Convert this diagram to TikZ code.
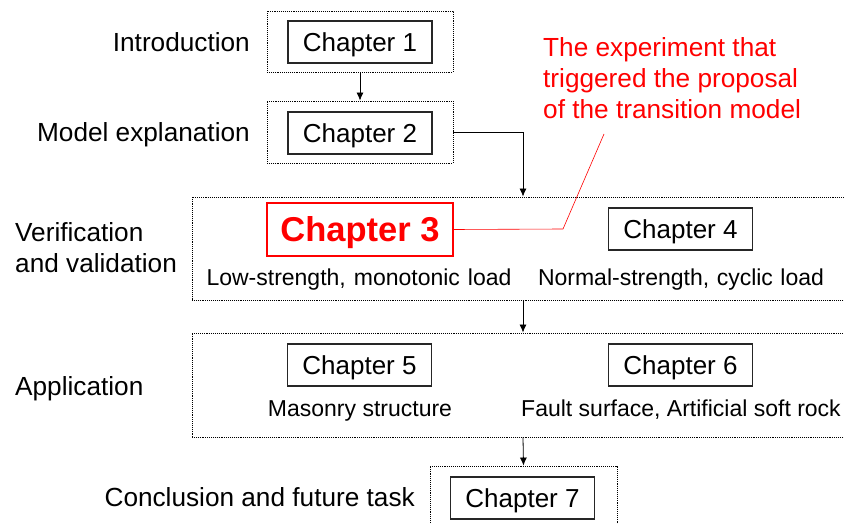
\documentclass[tikz,border=0pt]{standalone}
\usepackage{fontspec}
\setmainfont{Liberation Sans}
\usetikzlibrary{arrows.meta}

\tikzset{
   group/.style={draw,densely dotted,line width=0.9pt,inner sep=0pt},
   chap/.style={draw=black!85,line width=1.2pt,minimum width=144pt,minimum height=42pt,inner sep=0pt,
      text height=18.8pt,text depth=0pt,font=\fontsize{26}{30}\selectfont},
   keychap/.style={draw=red,line width=1.6pt,text=red,minimum width=186pt,minimum height=53pt,inner sep=0pt,
      text height=24.8pt,text depth=0pt,font=\fontsize{34.5}{40}\selectfont\bfseries},
   stage/.style={inner sep=0pt,font=\fontsize{26.2}{31}\selectfont},
   topic/.style={inner sep=0pt,font=\fontsize{23}{27}\selectfont},
   flow/.style={-{Latex[length=8pt,width=7pt]},line width=0.8pt},
}

\begin{document}
\begin{tikzpicture}[x=1pt,y=-1pt]
   \useasboundingbox (0,0) rectangle (844,524);

   % dotted groups
   \node[group,minimum width=186pt,minimum height=61pt] (g1) at (360,41.5) {};
   \node[group,minimum width=186pt,minimum height=62pt] (g2) at (360,132) {};
   \node[group,minimum width=662pt,minimum height=103pt] (g3) at (523,248.5) {};
   \node[group,minimum width=662pt,minimum height=104pt] (g4) at (523,385) {};
   \node[group,minimum width=187pt,minimum height=66pt] (g5) at (523.5,499) {};

   % chapters
   \node[chap] (c1) at (360,42) {Chapter 1};
   \node[chap] (c2) at (360,133) {Chapter 2};
   \node[keychap] (c3) at (360,229.5) {Chapter 3};
   \node[chap] (c4) at (680.5,229) {Chapter 4};
   \node[chap] (c5) at (359.5,365) {Chapter 5};
   \node[chap] (c6) at (680.5,365) {Chapter 6};
   \node[chap] (c7) at (522.5,498) {Chapter 7};

   % what each chapter deals with
   \node[topic,anchor=base] (t3) at (359,285) {Low-strength,\hspace{8pt}monotonic\hspace{8pt}load};
   \node[topic,anchor=base] (t4) at (681,285) {Normal-strength,\hspace{7.5pt}cyclic\hspace{7.5pt}load};
   \node[topic,anchor=base] (t5) at (360,416) {Masonry structure};
   \node[topic,anchor=base] (t6) at (681,416) {Fault surface, Artificial soft rock};

   % stages
   \node[stage,anchor=base east] (s1) at (250,52) {Introduction};
   \node[stage,anchor=base east] (s2) at (250,142) {Model explanation};
   \node[stage,anchor=north west,align=left] (s3) at (15,222) {Verification\\and validation};
   \node[stage,anchor=base west] (s4) at (15,395) {Application};
   \node[stage,anchor=base east] (s5) at (415,506) {Conclusion and future task};

   % flow
   \draw[flow] (g1.south) -- (g2.north);
   \draw[flow] (g2.east) -| (g3.north);
   \draw[flow] (g3.south) -- (g4.north);
   \draw[flow] (g4.south) -- (g5.north);

   % note on chapter 3
   \node[stage,text=red,anchor=north west,align=left] (note) at (543,37.5)
      {The experiment that\\triggered the proposal\\of the transition model};
   \coordinate (bend) at (563,229);
   \coordinate (tail) at (604,134);
   \draw[red,line width=0.6pt] (c3.east) -- (bend) -- (tail);

\end{tikzpicture}
\end{document}
